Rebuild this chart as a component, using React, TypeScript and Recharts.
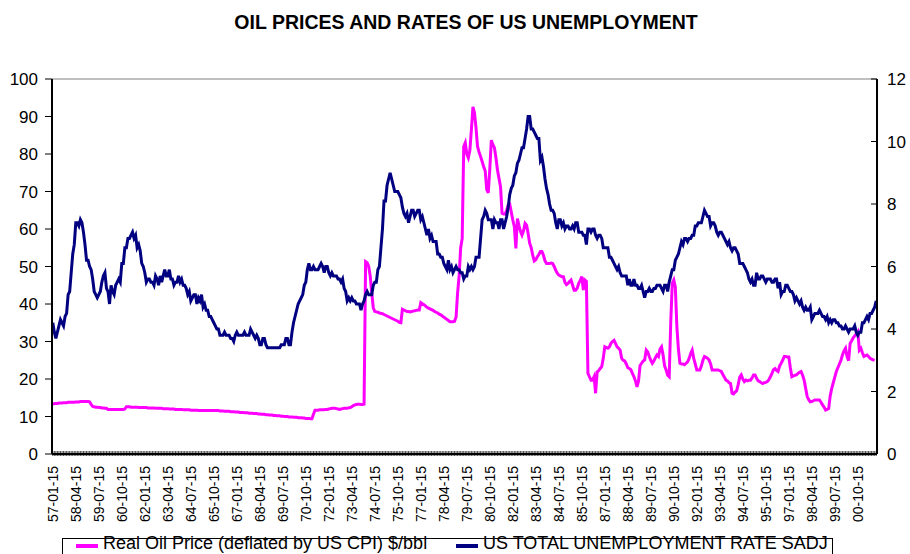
import React from 'react';
import { LineChart, Line, XAxis, YAxis, ReferenceLine } from 'recharts';

const START_YEAR = 1957;
const LABEL_EVERY = 15;

// US total unemployment rate (sadj, %), one row per year from 1957
const unemploymentRate: number[][] = [
  [4.2, 3.9, 3.7, 3.9, 4.1, 4.3, 4.2, 4.1, 4.4, 4.5, 5.1, 5.2],
  [5.8, 6.4, 6.7, 7.4, 7.4, 7.3, 7.5, 7.4, 7.1, 6.7, 6.2, 6.2],
  [6.0, 5.9, 5.6, 5.2, 5.1, 5.0, 5.1, 5.2, 5.5, 5.7, 5.8, 5.3],
  [5.2, 4.8, 5.4, 5.2, 5.1, 5.4, 5.5, 5.6, 5.5, 6.1, 6.1, 6.6],
  [6.6, 6.9, 6.9, 7.0, 7.1, 6.9, 7.0, 6.6, 6.7, 6.5, 6.1, 6.0],
  [5.8, 5.5, 5.6, 5.6, 5.5, 5.5, 5.4, 5.7, 5.6, 5.4, 5.7, 5.5],
  [5.7, 5.9, 5.7, 5.7, 5.9, 5.6, 5.6, 5.4, 5.5, 5.5, 5.7, 5.5],
  [5.6, 5.4, 5.4, 5.3, 5.1, 5.2, 4.9, 5.0, 5.1, 5.1, 4.8, 5.0],
  [4.9, 5.1, 4.7, 4.8, 4.6, 4.6, 4.4, 4.4, 4.3, 4.2, 4.1, 4.0],
  [4.0, 3.8, 3.8, 3.8, 3.9, 3.8, 3.8, 3.8, 3.7, 3.7, 3.6, 3.8],
  [3.9, 3.8, 3.8, 3.8, 3.8, 3.9, 3.8, 3.8, 3.8, 4.0, 3.9, 3.8],
  [3.7, 3.8, 3.7, 3.5, 3.5, 3.7, 3.7, 3.5, 3.4, 3.4, 3.4, 3.4],
  [3.4, 3.4, 3.4, 3.4, 3.4, 3.5, 3.5, 3.5, 3.7, 3.7, 3.5, 3.5],
  [3.9, 4.2, 4.4, 4.6, 4.8, 4.9, 5.0, 5.1, 5.4, 5.5, 5.9, 6.1],
  [5.9, 5.9, 6.0, 5.9, 5.9, 5.9, 6.0, 6.1, 6.0, 5.8, 6.0, 6.0],
  [5.8, 5.7, 5.8, 5.7, 5.7, 5.7, 5.6, 5.6, 5.5, 5.6, 5.3, 5.2],
  [4.9, 5.0, 4.9, 5.0, 4.9, 4.9, 4.8, 4.8, 4.8, 4.6, 4.8, 4.9],
  [5.1, 5.2, 5.1, 5.1, 5.1, 5.4, 5.5, 5.5, 5.9, 6.0, 6.6, 7.2],
  [8.1, 8.1, 8.6, 8.8, 9.0, 8.8, 8.6, 8.4, 8.4, 8.4, 8.3, 8.2],
  [7.9, 7.7, 7.6, 7.7, 7.4, 7.6, 7.8, 7.8, 7.6, 7.7, 7.8, 7.8],
  [7.5, 7.6, 7.4, 7.2, 7.0, 7.2, 6.9, 7.0, 6.8, 6.8, 6.8, 6.4],
  [6.4, 6.3, 6.3, 6.1, 6.0, 5.9, 6.2, 5.9, 6.0, 5.8, 5.9, 6.0],
  [5.9, 5.9, 5.8, 5.8, 5.6, 5.7, 5.7, 6.0, 5.9, 6.0, 5.9, 6.0],
  [6.3, 6.3, 6.3, 6.9, 7.5, 7.6, 7.8, 7.7, 7.5, 7.5, 7.5, 7.2],
  [7.5, 7.4, 7.4, 7.2, 7.5, 7.5, 7.2, 7.4, 7.6, 7.9, 8.3, 8.5],
  [8.6, 8.9, 9.0, 9.3, 9.4, 9.6, 9.8, 9.8, 10.1, 10.4, 10.8, 10.8],
  [10.4, 10.4, 10.3, 10.2, 10.1, 10.1, 9.4, 9.5, 9.2, 8.8, 8.5, 8.3],
  [8.0, 7.8, 7.8, 7.7, 7.4, 7.2, 7.5, 7.5, 7.3, 7.4, 7.2, 7.3],
  [7.3, 7.2, 7.2, 7.3, 7.2, 7.4, 7.4, 7.1, 7.1, 7.1, 7.0, 7.0],
  [6.7, 7.2, 7.2, 7.1, 7.2, 7.2, 7.0, 6.9, 7.0, 7.0, 6.9, 6.6],
  [6.6, 6.6, 6.6, 6.3, 6.3, 6.2, 6.1, 6.0, 5.9, 6.0, 5.8, 5.7],
  [5.7, 5.7, 5.7, 5.4, 5.6, 5.4, 5.4, 5.6, 5.4, 5.4, 5.3, 5.3],
  [5.4, 5.2, 5.0, 5.2, 5.2, 5.3, 5.2, 5.2, 5.3, 5.3, 5.4, 5.4],
  [5.4, 5.3, 5.2, 5.4, 5.4, 5.2, 5.5, 5.7, 5.9, 5.9, 6.2, 6.3],
  [6.4, 6.6, 6.8, 6.7, 6.9, 6.9, 6.8, 6.9, 6.9, 7.0, 7.0, 7.3],
  [7.3, 7.4, 7.4, 7.4, 7.6, 7.8, 7.7, 7.6, 7.6, 7.3, 7.4, 7.4],
  [7.3, 7.1, 7.0, 7.1, 7.1, 7.0, 6.9, 6.8, 6.7, 6.8, 6.6, 6.5],
  [6.6, 6.6, 6.5, 6.4, 6.1, 6.1, 6.1, 6.0, 5.9, 5.8, 5.6, 5.5],
  [5.6, 5.4, 5.4, 5.8, 5.6, 5.6, 5.7, 5.7, 5.6, 5.5, 5.6, 5.6],
  [5.6, 5.5, 5.5, 5.6, 5.6, 5.3, 5.5, 5.1, 5.2, 5.2, 5.4, 5.4],
  [5.3, 5.2, 5.2, 5.1, 4.9, 5.0, 4.9, 4.8, 4.9, 4.7, 4.6, 4.7],
  [4.6, 4.6, 4.7, 4.3, 4.4, 4.5, 4.5, 4.5, 4.6, 4.5, 4.4, 4.4],
  [4.3, 4.4, 4.2, 4.3, 4.2, 4.3, 4.3, 4.2, 4.2, 4.1, 4.1, 4.0],
  [4.0, 4.1, 4.0, 3.9, 4.0, 4.0, 4.0, 4.1, 3.9, 3.8, 3.9, 3.9],
  [4.2, 4.2, 4.3, 4.4, 4.3, 4.5, 4.5, 4.6, 4.7, 4.9],
];

// real oil price deflated by US CPI ($/bbl), one row per year from 1957
const oilPrice: number[][] = [
  [13.4, 13.4, 13.5, 13.5, 13.6, 13.6, 13.6, 13.7, 13.7, 13.7, 13.8, 13.8],
  [13.8, 13.8, 13.8, 13.9, 13.9, 13.9, 14.0, 14.0, 14.0, 14.0, 14.0, 14.0],
  [13.9, 13.2, 12.7, 12.6, 12.5, 12.5, 12.4, 12.4, 12.3, 12.3, 12.2, 12.2],
  [11.9, 11.9, 11.9, 11.9, 11.9, 11.9, 11.9, 11.9, 11.9, 11.9, 11.9, 12.0],
  [12.6, 12.6, 12.6, 12.5, 12.5, 12.5, 12.5, 12.5, 12.4, 12.4, 12.4, 12.4],
  [12.4, 12.4, 12.3, 12.3, 12.3, 12.3, 12.3, 12.2, 12.2, 12.2, 12.2, 12.2],
  [12.1, 12.1, 12.1, 12.1, 12.0, 12.0, 12.0, 12.0, 11.9, 11.9, 11.9, 11.9],
  [11.9, 11.8, 11.8, 11.8, 11.8, 11.8, 11.7, 11.7, 11.7, 11.7, 11.7, 11.6],
  [11.6, 11.6, 11.6, 11.6, 11.6, 11.6, 11.6, 11.6, 11.6, 11.6, 11.6, 11.6],
  [11.6, 11.5, 11.5, 11.5, 11.4, 11.4, 11.4, 11.4, 11.3, 11.3, 11.3, 11.2],
  [11.2, 11.2, 11.1, 11.1, 11.1, 11.0, 11.0, 11.0, 10.9, 10.9, 10.9, 10.8],
  [10.8, 10.8, 10.7, 10.7, 10.6, 10.6, 10.6, 10.5, 10.5, 10.4, 10.4, 10.4],
  [10.3, 10.3, 10.2, 10.2, 10.2, 10.1, 10.1, 10.0, 10.0, 10.0, 9.9, 9.9],
  [9.9, 9.8, 9.8, 9.8, 9.7, 9.7, 9.7, 9.6, 9.6, 9.5, 9.5, 9.5],
  [9.4, 9.4, 10.6, 11.7, 11.7, 11.7, 11.8, 11.8, 11.8, 11.8, 11.9, 11.9],
  [12.0, 12.1, 12.2, 12.2, 12.2, 12.1, 12.0, 11.9, 12.0, 12.1, 12.2, 12.2],
  [12.2, 12.3, 12.4, 12.6, 12.9, 13.1, 13.2, 13.3, 13.3, 13.2, 13.2, 13.3],
  [51.3, 51.0, 50.0, 47.5, 43.0, 39.0, 38.0, 37.9, 37.8, 37.6, 37.5, 37.4],
  [37.2, 37.0, 36.8, 36.6, 36.4, 36.2, 36.0, 35.8, 35.6, 35.4, 35.1, 35.0],
  [38.6, 38.4, 38.2, 38.0, 38.0, 37.9, 38.0, 38.1, 38.2, 38.3, 38.4, 38.4],
  [40.4, 40.1, 39.8, 39.5, 39.1, 38.9, 38.7, 38.5, 38.3, 38.0, 37.8, 37.6],
  [37.3, 37.1, 36.8, 36.5, 36.2, 35.9, 35.6, 35.3, 35.3, 35.3, 35.4, 36.5],
  [43.0, 47.5, 55.0, 57.5, 82.0, 83.0, 80.0, 79.0, 81.0, 86.5, 92.6, 91.0],
  [87.0, 82.0, 80.5, 79.3, 78.0, 76.6, 75.5, 70.5, 69.6, 76.0, 83.7, 82.5],
  [81.7, 79.0, 75.7, 73.5, 71.3, 64.2, 64.0, 64.0, 65.0, 66.4, 66.6, 64.5],
  [62.4, 60.6, 54.8, 62.8, 61.0, 59.4, 58.4, 59.5, 61.5, 61.0, 58.8, 56.2],
  [55.0, 53.0, 51.5, 51.8, 52.6, 53.2, 54.0, 54.0, 53.0, 51.5, 50.8, 50.8],
  [50.8, 50.9, 50.8, 50.0, 49.0, 48.2, 47.7, 47.5, 47.3, 47.3, 45.8, 45.2],
  [45.5, 46.0, 46.4, 45.0, 43.7, 43.7, 44.2, 45.5, 46.3, 47.3, 43.7, 46.4],
  [46.0, 21.5, 20.6, 19.7, 19.7, 20.6, 16.2, 21.9, 22.2, 22.8, 23.3, 25.5],
  [28.6, 28.4, 28.2, 28.6, 29.5, 30.0, 30.3, 29.5, 28.6, 28.2, 27.7, 25.5],
  [25.0, 24.8, 24.0, 23.0, 22.8, 22.5, 21.5, 20.6, 19.5, 17.9, 19.5, 23.6],
  [24.2, 24.8, 25.1, 27.7, 27.2, 26.0, 25.0, 24.2, 24.8, 25.7, 26.4, 26.0],
  [28.0, 28.6, 26.4, 23.5, 22.4, 21.0, 20.6, 35.0, 45.5, 46.4, 44.5, 34.0],
  [28.0, 24.2, 24.0, 24.0, 23.8, 24.2, 24.6, 25.5, 26.8, 27.7, 25.5, 24.0],
  [22.4, 22.4, 22.4, 23.5, 25.0, 26.0, 25.8, 25.5, 25.1, 24.0, 22.4, 22.4],
  [22.4, 22.4, 22.4, 22.2, 22.0, 21.2, 20.5, 19.7, 19.5, 19.0, 18.8, 16.2],
  [16.0, 16.5, 16.9, 18.5, 20.5, 21.1, 20.0, 19.3, 19.7, 19.5, 19.7, 19.7],
  [20.3, 21.1, 21.1, 20.2, 19.5, 19.3, 19.0, 18.8, 19.0, 19.1, 19.3, 19.8],
  [20.6, 21.5, 22.5, 22.8, 22.3, 22.0, 23.5, 24.2, 25.0, 26.0, 26.0, 25.9],
  [25.9, 23.0, 20.6, 20.8, 21.0, 21.1, 21.5, 21.8, 22.0, 21.0, 19.7, 17.5],
  [15.3, 14.5, 13.9, 14.0, 14.2, 14.4, 14.4, 14.4, 14.4, 13.8, 13.1, 12.5],
  [11.7, 11.9, 12.1, 15.5, 17.5, 19.0, 20.5, 22.0, 23.0, 24.0, 25.0, 26.4],
  [27.5, 28.2, 26.0, 24.9, 29.5, 30.2, 31.0, 31.5, 32.0, 32.6, 27.7, 28.2],
  [27.0, 26.0, 26.2, 26.4, 26.0, 25.5, 25.3, 25.1, 25.0],
];

const leftTicks = [0, 10, 20, 30, 40, 50, 60, 70, 80, 90, 100];
const rightTicks = [0, 2, 4, 6, 8, 10, 12];

const OIL_COLOR = '#ff00ff';
const RATE_COLOR = '#000080';

const pad2 = (n: number) => String(n).padStart(2, '0');

const data = unemploymentRate.flatMap((row, y) =>
  row.map((rate, m) => ({
    date: `${pad2((START_YEAR + y) % 100)}-${pad2(m + 1)}-15`,
    oil: oilPrice[y]?.[m],
    rate,
  })),
);

// every month gets a small tick, every 15th month gets a rotated date label
const MonthTick = (props: any) => {
  const { x, y, payload } = props;
  const idx = payload?.index ?? props.index ?? 0;
  return (
    <g>
      <line x1={x} x2={x} y1={y - 3} y2={y + 2} stroke="#000" strokeWidth={0.7} />
      {idx % LABEL_EVERY === 0 && (
        <text
          transform={`translate(${x},${y + 12}) rotate(-90)`}
          textAnchor="end"
          dominantBaseline="central"
          fontSize={14}
          fill="#000"
        >
          {payload.value}
        </text>
      )}
    </g>
  );
};

export default function App() {
  return (
    <div
      style={{
        position: 'relative',
        width: 910,
        height: 554,
        overflow: 'hidden',
        background: '#fff',
        fontFamily: "'Liberation Sans', Arial, sans-serif",
      }}
    >
      <style>{'body{margin:0}'}</style>
      <div
        style={{
          position: 'absolute',
          top: 11,
          left: 0,
          width: 932,
          textAlign: 'center',
          fontWeight: 'bold',
          fontSize: 19.5,
        }}
      >
        OIL PRICES AND RATES OF US UNEMPLOYMENT
      </div>
      <LineChart width={910} height={554} data={data} margin={{ top: 79, right: 0, bottom: 0, left: 0 }}>
        <XAxis
          dataKey="date"
          interval={0}
          height={100}
          tick={<MonthTick />}
          tickLine={false}
          tickSize={0}
          tickMargin={0}
          padding={{ left: 0.8, right: 0.8 }}
          axisLine={{ stroke: '#000', strokeWidth: 2 }}
        />
        <YAxis
          yAxisId="left"
          domain={[0, 100]}
          ticks={leftTicks}
          width={52}
          tickSize={7}
          tickMargin={7}
          tick={{ fontSize: 17, fill: '#000' }}
          tickLine={{ stroke: '#000' }}
          axisLine={{ stroke: '#000', strokeWidth: 2 }}
        />
        <YAxis
          yAxisId="right"
          orientation="right"
          domain={[0, 12]}
          ticks={rightTicks}
          width={33}
          tickSize={-6}
          tickMargin={16}
          tick={{ fontSize: 17, fill: '#000', textAnchor: 'start' }}
          tickLine={{ stroke: '#000' }}
          axisLine={{ stroke: '#000', strokeWidth: 2 }}
        />
        <ReferenceLine yAxisId="left" y={100} stroke="#808080" strokeWidth={1} />
        <Line
          yAxisId="left"
          dataKey="oil"
          stroke={OIL_COLOR}
          strokeWidth={3}
          dot={false}
          isAnimationActive={false}
        />
        <Line
          yAxisId="right"
          dataKey="rate"
          stroke={RATE_COLOR}
          strokeWidth={3}
          dot={false}
          isAnimationActive={false}
        />
      </LineChart>
      <div
        style={{
          position: 'absolute',
          left: 62,
          top: 538,
          width: 771,
          height: 30,
          border: '1px solid #000',
          boxSizing: 'border-box',
          fontSize: 18,
          lineHeight: '18px',
        }}
      >
        <div style={{ position: 'absolute', left: 13, top: 5, width: 22, height: 4, background: OIL_COLOR }} />
        <div style={{ position: 'absolute', left: 40, top: -5, whiteSpace: 'nowrap' }}>
          Real Oil Price (deflated by US CPI) $/bbl
        </div>
        <div style={{ position: 'absolute', left: 393, top: 5, width: 22, height: 4, background: RATE_COLOR }} />
        <div style={{ position: 'absolute', left: 420, top: -5, whiteSpace: 'nowrap' }}>
          US TOTAL UNEMPLOYMENT RATE SADJ
        </div>
      </div>
    </div>
  );
}
